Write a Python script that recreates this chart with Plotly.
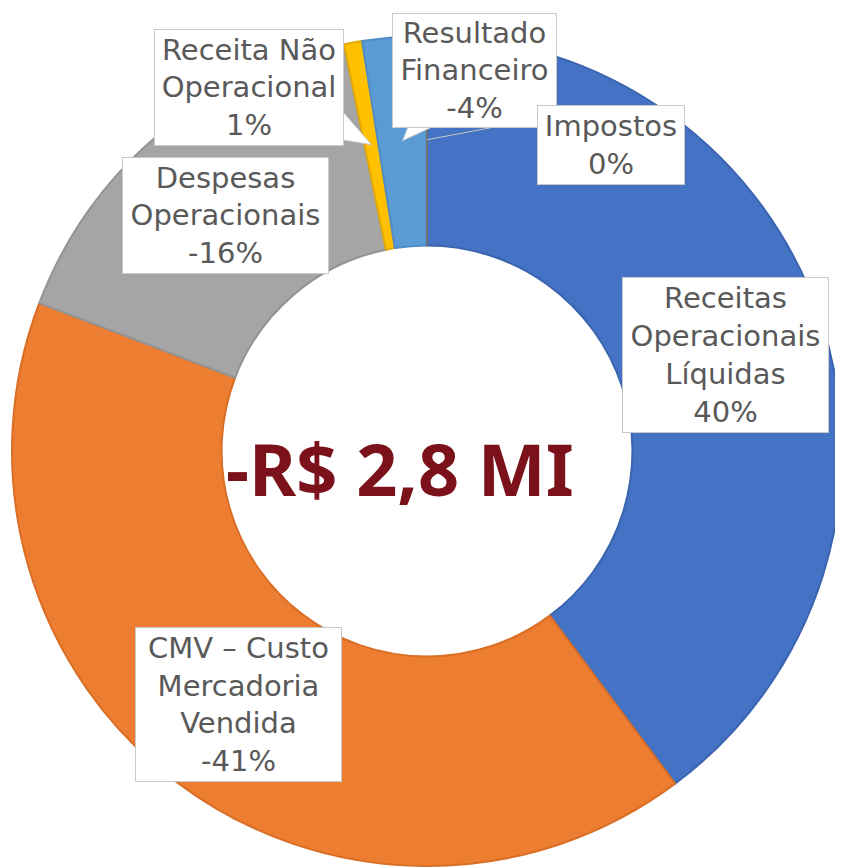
import math
import plotly.graph_objects as go

# ---------------- data ----------------
labels = ["Receitas Operacionais Líquidas", "CMV – Custo Mercadoria Vendida",
          "Despesas Operacionais", "Receita Não Operacional",
          "Resultado Financeiro", "Impostos"]
label_lines = ["Receitas<br>Operacionais<br>Líquidas", "CMV – Custo<br>Mercadoria<br>Vendida",
               "Despesas<br>Operacionais", "Receita Não<br>Operacional",
               "Resultado<br>Financeiro", "Impostos"]
values = [39.8, 41.0, 16.0, 0.7, 2.5, 0.0]          # slice share (%)
pct_labels = ["40%", "-41%", "-16%", "1%", "-4%", "0%"]
center_label = "-R$ 2,8 MI"

colors = ["#4472C4", "#ED7D31", "#A5A5A5", "#FFC000", "#5B9BD5", "#7F7F7F"]
edge_colors = ["#3B64B0", "#D96E26", "#939393", "#E3AA00", "#4F8CC4", "#6F6F6F"]

OFF = 8                      # page body margin
W, H = 835, 860              # figure size
CX, CY, R = 427, 451, 415    # donut centre / radius in page pixels


def px(x):
    return (x - OFF) / W


def py(y):
    return 1 - (y - OFF) / H


fig = go.Figure(go.Pie(
    labels=labels, values=values, sort=False, direction="clockwise", rotation=0,
    hole=0.495, textinfo="none", hoverinfo="label+text", text=pct_labels,
    marker=dict(colors=colors, line=dict(color=edge_colors, width=2)),
    domain=dict(x=[px(CX - R), px(CX + R)], y=[py(CY + R), py(CY - R)]),
    showlegend=False,
))

# label boxes (left, top, right, bottom in page px)
boxes = [
    (622, 277, 829, 433),
    (135, 627, 342, 782),
    (122, 157, 329, 274),
    (154, 29, 344, 146),
    (392, 13, 557, 128),
    (537, 105, 685, 185),
]

font = dict(family="DejaVu Sans, Noto Sans, sans-serif", size=29, color="#595959")
annotations = []
for i, (l, t, r, b) in enumerate(boxes):
    annotations.append(dict(
        x=px((l + r) / 2), y=py((t + b) / 2), xref="paper", yref="paper",
        xanchor="center", yanchor="middle", showarrow=False,
        text=label_lines[i] + "<br>" + pct_labels[i], font=font, align="center",
        bgcolor="white", bordercolor="#C9C9C9", borderwidth=1, borderpad=0,
        width=r - l - 2, height=b - t - 2,
    ))

annotations.append(dict(
    x=px(400), y=py(468), xref="paper", yref="paper", showarrow=False,
    xanchor="center", yanchor="middle", text="<b>" + center_label + "</b>",
    font=dict(family="Noto Sans, sans-serif", size=72, color="#7B111A"),
))

# callout tips from slice mid-angles
total = sum(values)
cum = 0
tips = []
for v in values:
    mid = (cum + v / 2) / total * 2 * math.pi
    cum += v
    tips.append((CX + 0.75 * R * math.sin(mid), CY - 0.75 * R * math.cos(mid)))

shapes = []
# Receita Não Operacional wedge (from right side of its box)
tx, ty = tips[3]
shapes.append(dict(type="path", xref="paper", yref="paper", layer="above",
                   path=f"M {px(343)} {py(112)} L {px(tx)} {py(ty)} L {px(343)} {py(140)} Z",
                   fillcolor="white", line=dict(color="#C9C9C9", width=1)))
# Resultado Financeiro wedge (from bottom of its box)
tx, ty = tips[4]
shapes.append(dict(type="path", xref="paper", yref="paper", layer="above",
                   path=f"M {px(408)} {py(127)} L {px(tx)} {py(ty)} L {px(432)} {py(127)} Z",
                   fillcolor="white", line=dict(color="#C9C9C9", width=1)))
# Impostos leader line
tx, ty = tips[5]
shapes.append(dict(type="line", xref="paper", yref="paper", layer="above",
                   x0=px(tx), y0=py(ty), x1=px(537), y1=py(119),
                   line=dict(color="#C9C9C9", width=1)))

fig.update_layout(
    width=W, height=H, margin=dict(l=0, r=0, t=0, b=0),
    paper_bgcolor="white", plot_bgcolor="white",
    annotations=annotations, shapes=shapes,
)

fig.write_html("out.html")
